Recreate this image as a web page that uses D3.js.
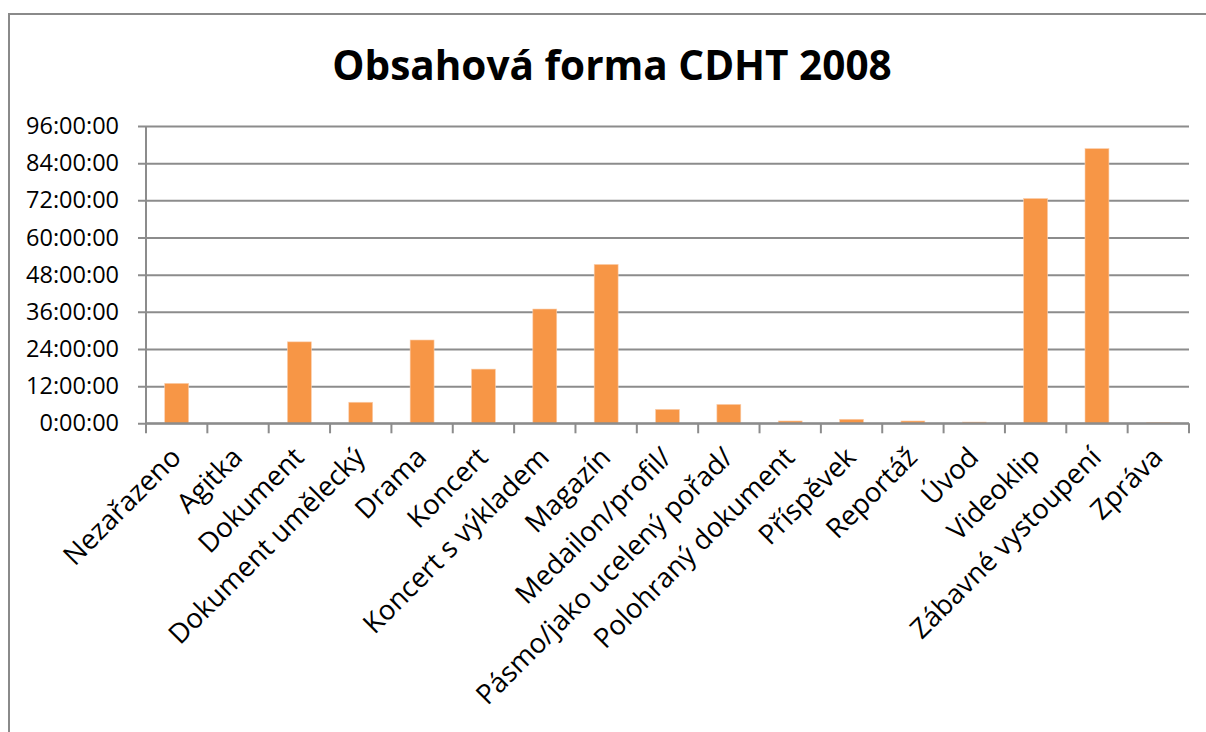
<!DOCTYPE html>
<html>
<head>
<meta charset="utf-8">
<script src="https://cdn.jsdelivr.net/npm/d3@7"></script>
<style>
  html, body { margin: 0; padding: 0; background: #fff; }
  svg { display: block; font-family: "Open Sans", "Noto Sans", sans-serif; }
</style>
</head>
<body>
<svg id="chart" width="1206" height="732"></svg>
<script>
// categories and total duration per category (hours)
const categories = [
  "Nezařazeno", "Agitka", "Dokument", "Dokument umělecký", "Drama", "Koncert",
  "Koncert s výkladem", "Magazín", "Medailon/profil/", "Pásmo/jako ucelený pořad/",
  "Polohraný dokument", "Příspěvek", "Reportáž", "Úvod", "Videoklip",
  "Zábavné vystoupení", "Zpráva"
];
const hours = [12.9, 0, 26.3, 6.8, 26.9, 17.5, 36.9, 51.3, 4.5, 6.1, 0.75, 1.3, 0.75, 0.4, 72.6, 88.7, 0.3];
const yTicks = [0, 12, 24, 36, 48, 60, 72, 84, 96];
const title = "Obsahová forma CDHT 2008";

const svg = d3.select("#chart");
const plotLeft = 146, plotRight = 1189, plotTop = 126, plotBottom = 423.3;
const axisColor = "#8c8c8c";

// chart frame
svg.append("rect")
   .attr("x", 9).attr("y", 14)
   .attr("width", 1400).attr("height", 900)
   .attr("fill", "none").attr("stroke", "#8a8a8a").attr("stroke-width", 2);

svg.append("text")
   .attr("x", 612).attr("y", 80)
   .attr("text-anchor", "middle")
   .attr("font-size", 40.5).attr("font-weight", "bold")
   .attr("fill", "#000")
   .text(title);

const x = d3.scaleBand().domain(categories).range([plotLeft, plotRight])
   .paddingInner(0.61).paddingOuter(0.305);
const y = d3.scaleLinear().domain([0, 96]).range([plotBottom, plotTop]);

// gridlines + y labels
const yAxis = svg.append("g")
   .attr("transform", `translate(${plotLeft},0)`)
   .call(d3.axisLeft(y).tickValues(yTicks).tickSizeInner(-(plotRight - plotLeft)).tickSizeOuter(0)
      .tickFormat(d => d + ":00:00"));
yAxis.select(".domain").remove();
yAxis.selectAll(".tick line")
   .attr("x1", -8)
   .attr("stroke", axisColor).attr("stroke-width", 2);
yAxis.selectAll(".tick text")
   .attr("x", -27)
   .attr("font-size", 23.5).attr("fill", "#000")
   .attr("font-family", "'Open Sans', sans-serif");

// vertical axis line
svg.append("line")
   .attr("x1", plotLeft).attr("x2", plotLeft).attr("y1", plotTop).attr("y2", plotBottom)
   .attr("stroke", axisColor).attr("stroke-width", 2);

// bars
svg.append("g").selectAll("rect")
   .data(categories)
   .join("rect")
   .attr("x", d => x(d))
   .attr("width", x.bandwidth())
   .attr("y", (d, i) => y(hours[i]))
   .attr("height", (d, i) => plotBottom - y(hours[i]))
   .attr("fill", "#f79646")
   .attr("stroke", "#fbcfae").attr("stroke-width", 0.6);

// category axis: ticks at boundaries
svg.append("line")
   .attr("x1", plotLeft).attr("x2", plotRight).attr("y1", plotBottom).attr("y2", plotBottom)
   .attr("stroke", axisColor).attr("stroke-width", 2);
svg.append("g").selectAll("line")
   .data(d3.range(categories.length + 1))
   .join("line")
   .attr("x1", i => plotLeft + i * x.step())
   .attr("x2", i => plotLeft + i * x.step())
   .attr("y1", plotBottom).attr("y2", plotBottom + 10)
   .attr("stroke", axisColor).attr("stroke-width", 2);

// rotated category labels
svg.append("g").selectAll("text")
   .data(categories)
   .join("text")
   .attr("text-anchor", "end")
   .attr("font-size", 27.5)
   .attr("fill", "#000")
   .attr("transform", d => `translate(${x(d) + x.bandwidth() / 2 + 6},459) rotate(-45)`)
   .text(d => d);
</script>
</body>
</html>
